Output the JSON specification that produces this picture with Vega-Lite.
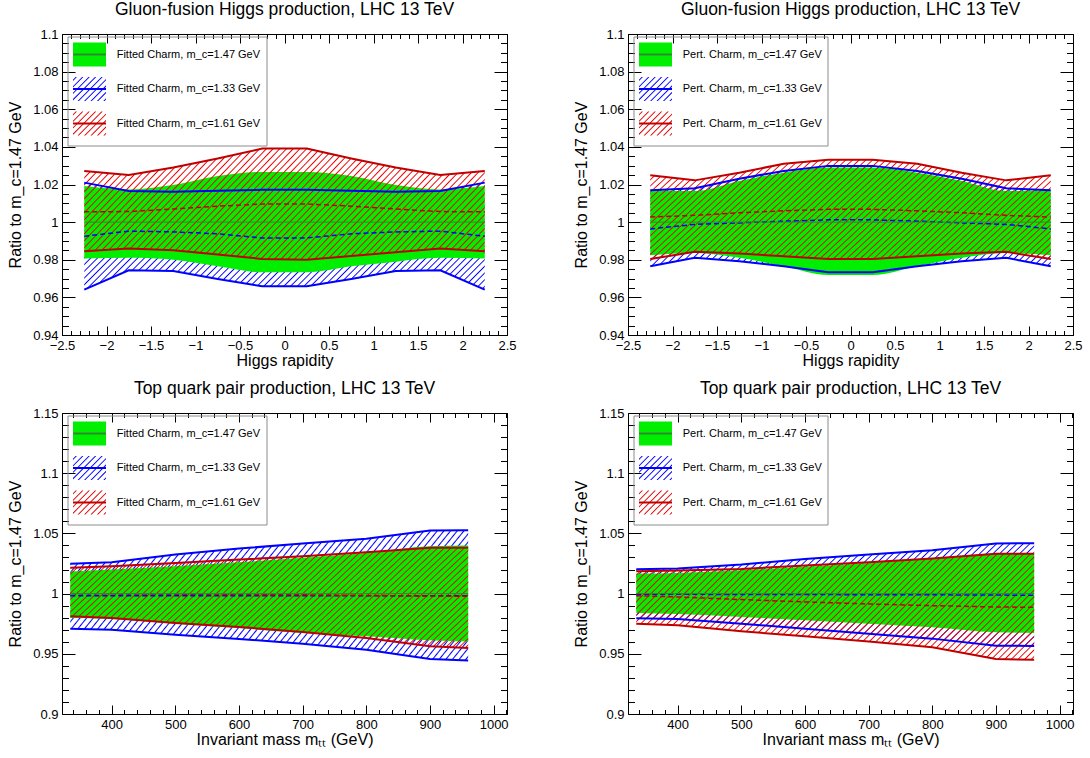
{
"$schema":"https://vega.github.io/schema/vega-lite/v6.json",
"background":"white",
"padding":{"left":7,"top":0,"right":5,"bottom":5},
"config":{
"view":{"stroke":null},
"mark":{"color":null},
"font":"Liberation Sans",
"axis":{"labelFont":"Liberation Sans","labelFontSize":13,"labelColor":"black","titleFont":"Liberation Sans","titleFontSize":16,"titleFontWeight":"normal","titleColor":"black","tickColor":"black","domainColor":"black","tickWidth":1,"domainWidth":1,"grid":false,"labelFlush":false,"labelOverlap":false,"labelBound":false},
"legend":{"labelFont":"Liberation Sans","labelFontSize":11,"labelColor":"black","padding":5.5,"rowPadding":1.5,"labelOffset":14.7,"symbolOffset":4,"symbolSize":529,"symbolStrokeWidth":2,"orient":"none","legendX":5.5,"legendY":2.5},
"title":{"font":"Liberation Sans","fontSize":17.5,"fontWeight":"normal","color":"black","frame":"group","offset":10,"baseline":"alphabetic","anchor":"middle"},
"style":{
"hatchB":{"fill":{"gradient":"linear","x1":0,"y1":0,"x2":1.25,"y2":0.3333,"stops":[
{"offset":0,"color":"#00f0"},{"offset":0.0025,"color":"#00f"},{"offset":0.005,"color":"#00f0"},{"offset":0.0125,"color":"#00f0"},{"offset":0.015,"color":"#00f"},{"offset":0.0175,"color":"#00f0"},{"offset":0.025,"color":"#00f0"},{"offset":0.0275,"color":"#00f"},{"offset":0.03,"color":"#00f0"},{"offset":0.0375,"color":"#00f0"},{"offset":0.04,"color":"#00f"},{"offset":0.0425,"color":"#00f0"},
{"offset":0.05,"color":"#00f0"},{"offset":0.0525,"color":"#00f"},{"offset":0.055,"color":"#00f0"},{"offset":0.0625,"color":"#00f0"},{"offset":0.065,"color":"#00f"},{"offset":0.0675,"color":"#00f0"},{"offset":0.075,"color":"#00f0"},{"offset":0.0775,"color":"#00f"},{"offset":0.08,"color":"#00f0"},{"offset":0.0875,"color":"#00f0"},{"offset":0.09,"color":"#00f"},{"offset":0.0925,"color":"#00f0"},
{"offset":0.1,"color":"#00f0"},{"offset":0.1025,"color":"#00f"},{"offset":0.105,"color":"#00f0"},{"offset":0.1125,"color":"#00f0"},{"offset":0.115,"color":"#00f"},{"offset":0.1175,"color":"#00f0"},{"offset":0.125,"color":"#00f0"},{"offset":0.1275,"color":"#00f"},{"offset":0.13,"color":"#00f0"},{"offset":0.1375,"color":"#00f0"},{"offset":0.14,"color":"#00f"},{"offset":0.1425,"color":"#00f0"},
{"offset":0.15,"color":"#00f0"},{"offset":0.1525,"color":"#00f"},{"offset":0.155,"color":"#00f0"},{"offset":0.1625,"color":"#00f0"},{"offset":0.165,"color":"#00f"},{"offset":0.1675,"color":"#00f0"},{"offset":0.175,"color":"#00f0"},{"offset":0.1775,"color":"#00f"},{"offset":0.18,"color":"#00f0"},{"offset":0.1875,"color":"#00f0"},{"offset":0.19,"color":"#00f"},{"offset":0.1925,"color":"#00f0"},
{"offset":0.2,"color":"#00f0"},{"offset":0.2025,"color":"#00f"},{"offset":0.205,"color":"#00f0"},{"offset":0.2125,"color":"#00f0"},{"offset":0.215,"color":"#00f"},{"offset":0.2175,"color":"#00f0"},{"offset":0.225,"color":"#00f0"},{"offset":0.2275,"color":"#00f"},{"offset":0.23,"color":"#00f0"},{"offset":0.2375,"color":"#00f0"},{"offset":0.24,"color":"#00f"},{"offset":0.2425,"color":"#00f0"},
{"offset":0.25,"color":"#00f0"},{"offset":0.2525,"color":"#00f"},{"offset":0.255,"color":"#00f0"},{"offset":0.2625,"color":"#00f0"},{"offset":0.265,"color":"#00f"},{"offset":0.2675,"color":"#00f0"},{"offset":0.275,"color":"#00f0"},{"offset":0.2775,"color":"#00f"},{"offset":0.28,"color":"#00f0"},{"offset":0.2875,"color":"#00f0"},{"offset":0.29,"color":"#00f"},{"offset":0.2925,"color":"#00f0"},
{"offset":0.3,"color":"#00f0"},{"offset":0.3025,"color":"#00f"},{"offset":0.305,"color":"#00f0"},{"offset":0.3125,"color":"#00f0"},{"offset":0.315,"color":"#00f"},{"offset":0.3175,"color":"#00f0"},{"offset":0.325,"color":"#00f0"},{"offset":0.3275,"color":"#00f"},{"offset":0.33,"color":"#00f0"},{"offset":0.3375,"color":"#00f0"},{"offset":0.34,"color":"#00f"},{"offset":0.3425,"color":"#00f0"},
{"offset":0.35,"color":"#00f0"},{"offset":0.3525,"color":"#00f"},{"offset":0.355,"color":"#00f0"},{"offset":0.3625,"color":"#00f0"},{"offset":0.365,"color":"#00f"},{"offset":0.3675,"color":"#00f0"},{"offset":0.375,"color":"#00f0"},{"offset":0.3775,"color":"#00f"},{"offset":0.38,"color":"#00f0"},{"offset":0.3875,"color":"#00f0"},{"offset":0.39,"color":"#00f"},{"offset":0.3925,"color":"#00f0"},
{"offset":0.4,"color":"#00f0"},{"offset":0.4025,"color":"#00f"},{"offset":0.405,"color":"#00f0"},{"offset":0.4125,"color":"#00f0"},{"offset":0.415,"color":"#00f"},{"offset":0.4175,"color":"#00f0"},{"offset":0.425,"color":"#00f0"},{"offset":0.4275,"color":"#00f"},{"offset":0.43,"color":"#00f0"},{"offset":0.4375,"color":"#00f0"},{"offset":0.44,"color":"#00f"},{"offset":0.4425,"color":"#00f0"},
{"offset":0.45,"color":"#00f0"},{"offset":0.4525,"color":"#00f"},{"offset":0.455,"color":"#00f0"},{"offset":0.4625,"color":"#00f0"},{"offset":0.465,"color":"#00f"},{"offset":0.4675,"color":"#00f0"},{"offset":0.475,"color":"#00f0"},{"offset":0.4775,"color":"#00f"},{"offset":0.48,"color":"#00f0"},{"offset":0.4875,"color":"#00f0"},{"offset":0.49,"color":"#00f"},{"offset":0.4925,"color":"#00f0"},
{"offset":0.5,"color":"#00f0"},{"offset":0.5025,"color":"#00f"},{"offset":0.505,"color":"#00f0"},{"offset":0.5125,"color":"#00f0"},{"offset":0.515,"color":"#00f"},{"offset":0.5175,"color":"#00f0"},{"offset":0.525,"color":"#00f0"},{"offset":0.5275,"color":"#00f"},{"offset":0.53,"color":"#00f0"},{"offset":0.5375,"color":"#00f0"},{"offset":0.54,"color":"#00f"},{"offset":0.5425,"color":"#00f0"},
{"offset":0.55,"color":"#00f0"},{"offset":0.5525,"color":"#00f"},{"offset":0.555,"color":"#00f0"},{"offset":0.5625,"color":"#00f0"},{"offset":0.565,"color":"#00f"},{"offset":0.5675,"color":"#00f0"},{"offset":0.575,"color":"#00f0"},{"offset":0.5775,"color":"#00f"},{"offset":0.58,"color":"#00f0"},{"offset":0.5875,"color":"#00f0"},{"offset":0.59,"color":"#00f"},{"offset":0.5925,"color":"#00f0"},
{"offset":0.6,"color":"#00f0"},{"offset":0.6025,"color":"#00f"},{"offset":0.605,"color":"#00f0"},{"offset":0.6125,"color":"#00f0"},{"offset":0.615,"color":"#00f"},{"offset":0.6175,"color":"#00f0"},{"offset":0.625,"color":"#00f0"},{"offset":0.6275,"color":"#00f"},{"offset":0.63,"color":"#00f0"},{"offset":0.6375,"color":"#00f0"},{"offset":0.64,"color":"#00f"},{"offset":0.6425,"color":"#00f0"},
{"offset":0.65,"color":"#00f0"},{"offset":0.6525,"color":"#00f"},{"offset":0.655,"color":"#00f0"},{"offset":0.6625,"color":"#00f0"},{"offset":0.665,"color":"#00f"},{"offset":0.6675,"color":"#00f0"},{"offset":0.675,"color":"#00f0"},{"offset":0.6775,"color":"#00f"},{"offset":0.68,"color":"#00f0"},{"offset":0.6875,"color":"#00f0"},{"offset":0.69,"color":"#00f"},{"offset":0.6925,"color":"#00f0"},
{"offset":0.7,"color":"#00f0"},{"offset":0.7025,"color":"#00f"},{"offset":0.705,"color":"#00f0"},{"offset":0.7125,"color":"#00f0"},{"offset":0.715,"color":"#00f"},{"offset":0.7175,"color":"#00f0"},{"offset":0.725,"color":"#00f0"},{"offset":0.7275,"color":"#00f"},{"offset":0.73,"color":"#00f0"},{"offset":0.7375,"color":"#00f0"},{"offset":0.74,"color":"#00f"},{"offset":0.7425,"color":"#00f0"},
{"offset":0.75,"color":"#00f0"},{"offset":0.7525,"color":"#00f"},{"offset":0.755,"color":"#00f0"},{"offset":0.7625,"color":"#00f0"},{"offset":0.765,"color":"#00f"},{"offset":0.7675,"color":"#00f0"},{"offset":0.775,"color":"#00f0"},{"offset":0.7775,"color":"#00f"},{"offset":0.78,"color":"#00f0"},{"offset":0.7875,"color":"#00f0"},{"offset":0.79,"color":"#00f"},{"offset":0.7925,"color":"#00f0"},
{"offset":0.8,"color":"#00f0"},{"offset":0.8025,"color":"#00f"},{"offset":0.805,"color":"#00f0"},{"offset":0.8125,"color":"#00f0"},{"offset":0.815,"color":"#00f"},{"offset":0.8175,"color":"#00f0"},{"offset":0.825,"color":"#00f0"},{"offset":0.8275,"color":"#00f"},{"offset":0.83,"color":"#00f0"},{"offset":0.8375,"color":"#00f0"},{"offset":0.84,"color":"#00f"},{"offset":0.8425,"color":"#00f0"},
{"offset":0.85,"color":"#00f0"},{"offset":0.8525,"color":"#00f"},{"offset":0.855,"color":"#00f0"},{"offset":0.8625,"color":"#00f0"},{"offset":0.865,"color":"#00f"},{"offset":0.8675,"color":"#00f0"},{"offset":0.875,"color":"#00f0"},{"offset":0.8775,"color":"#00f"},{"offset":0.88,"color":"#00f0"},{"offset":0.8875,"color":"#00f0"},{"offset":0.89,"color":"#00f"},{"offset":0.8925,"color":"#00f0"},
{"offset":0.9,"color":"#00f0"},{"offset":0.9025,"color":"#00f"},{"offset":0.905,"color":"#00f0"},{"offset":0.9125,"color":"#00f0"},{"offset":0.915,"color":"#00f"},{"offset":0.9175,"color":"#00f0"},{"offset":0.925,"color":"#00f0"},{"offset":0.9275,"color":"#00f"},{"offset":0.93,"color":"#00f0"},{"offset":0.9375,"color":"#00f0"},{"offset":0.94,"color":"#00f"},{"offset":0.9425,"color":"#00f0"}
]}},
"hatchR":{"fill":{"gradient":"linear","x1":0,"y1":0,"x2":1.25,"y2":0.3333,"stops":[
{"offset":0,"color":"#e000"},{"offset":0.0025,"color":"#e00"},{"offset":0.005,"color":"#e000"},{"offset":0.0125,"color":"#e000"},{"offset":0.015,"color":"#e00"},{"offset":0.0175,"color":"#e000"},{"offset":0.025,"color":"#e000"},{"offset":0.0275,"color":"#e00"},{"offset":0.03,"color":"#e000"},{"offset":0.0375,"color":"#e000"},{"offset":0.04,"color":"#e00"},{"offset":0.0425,"color":"#e000"},
{"offset":0.05,"color":"#e000"},{"offset":0.0525,"color":"#e00"},{"offset":0.055,"color":"#e000"},{"offset":0.0625,"color":"#e000"},{"offset":0.065,"color":"#e00"},{"offset":0.0675,"color":"#e000"},{"offset":0.075,"color":"#e000"},{"offset":0.0775,"color":"#e00"},{"offset":0.08,"color":"#e000"},{"offset":0.0875,"color":"#e000"},{"offset":0.09,"color":"#e00"},{"offset":0.0925,"color":"#e000"},
{"offset":0.1,"color":"#e000"},{"offset":0.1025,"color":"#e00"},{"offset":0.105,"color":"#e000"},{"offset":0.1125,"color":"#e000"},{"offset":0.115,"color":"#e00"},{"offset":0.1175,"color":"#e000"},{"offset":0.125,"color":"#e000"},{"offset":0.1275,"color":"#e00"},{"offset":0.13,"color":"#e000"},{"offset":0.1375,"color":"#e000"},{"offset":0.14,"color":"#e00"},{"offset":0.1425,"color":"#e000"},
{"offset":0.15,"color":"#e000"},{"offset":0.1525,"color":"#e00"},{"offset":0.155,"color":"#e000"},{"offset":0.1625,"color":"#e000"},{"offset":0.165,"color":"#e00"},{"offset":0.1675,"color":"#e000"},{"offset":0.175,"color":"#e000"},{"offset":0.1775,"color":"#e00"},{"offset":0.18,"color":"#e000"},{"offset":0.1875,"color":"#e000"},{"offset":0.19,"color":"#e00"},{"offset":0.1925,"color":"#e000"},
{"offset":0.2,"color":"#e000"},{"offset":0.2025,"color":"#e00"},{"offset":0.205,"color":"#e000"},{"offset":0.2125,"color":"#e000"},{"offset":0.215,"color":"#e00"},{"offset":0.2175,"color":"#e000"},{"offset":0.225,"color":"#e000"},{"offset":0.2275,"color":"#e00"},{"offset":0.23,"color":"#e000"},{"offset":0.2375,"color":"#e000"},{"offset":0.24,"color":"#e00"},{"offset":0.2425,"color":"#e000"},
{"offset":0.25,"color":"#e000"},{"offset":0.2525,"color":"#e00"},{"offset":0.255,"color":"#e000"},{"offset":0.2625,"color":"#e000"},{"offset":0.265,"color":"#e00"},{"offset":0.2675,"color":"#e000"},{"offset":0.275,"color":"#e000"},{"offset":0.2775,"color":"#e00"},{"offset":0.28,"color":"#e000"},{"offset":0.2875,"color":"#e000"},{"offset":0.29,"color":"#e00"},{"offset":0.2925,"color":"#e000"},
{"offset":0.3,"color":"#e000"},{"offset":0.3025,"color":"#e00"},{"offset":0.305,"color":"#e000"},{"offset":0.3125,"color":"#e000"},{"offset":0.315,"color":"#e00"},{"offset":0.3175,"color":"#e000"},{"offset":0.325,"color":"#e000"},{"offset":0.3275,"color":"#e00"},{"offset":0.33,"color":"#e000"},{"offset":0.3375,"color":"#e000"},{"offset":0.34,"color":"#e00"},{"offset":0.3425,"color":"#e000"},
{"offset":0.35,"color":"#e000"},{"offset":0.3525,"color":"#e00"},{"offset":0.355,"color":"#e000"},{"offset":0.3625,"color":"#e000"},{"offset":0.365,"color":"#e00"},{"offset":0.3675,"color":"#e000"},{"offset":0.375,"color":"#e000"},{"offset":0.3775,"color":"#e00"},{"offset":0.38,"color":"#e000"},{"offset":0.3875,"color":"#e000"},{"offset":0.39,"color":"#e00"},{"offset":0.3925,"color":"#e000"},
{"offset":0.4,"color":"#e000"},{"offset":0.4025,"color":"#e00"},{"offset":0.405,"color":"#e000"},{"offset":0.4125,"color":"#e000"},{"offset":0.415,"color":"#e00"},{"offset":0.4175,"color":"#e000"},{"offset":0.425,"color":"#e000"},{"offset":0.4275,"color":"#e00"},{"offset":0.43,"color":"#e000"},{"offset":0.4375,"color":"#e000"},{"offset":0.44,"color":"#e00"},{"offset":0.4425,"color":"#e000"},
{"offset":0.45,"color":"#e000"},{"offset":0.4525,"color":"#e00"},{"offset":0.455,"color":"#e000"},{"offset":0.4625,"color":"#e000"},{"offset":0.465,"color":"#e00"},{"offset":0.4675,"color":"#e000"},{"offset":0.475,"color":"#e000"},{"offset":0.4775,"color":"#e00"},{"offset":0.48,"color":"#e000"},{"offset":0.4875,"color":"#e000"},{"offset":0.49,"color":"#e00"},{"offset":0.4925,"color":"#e000"},
{"offset":0.5,"color":"#e000"},{"offset":0.5025,"color":"#e00"},{"offset":0.505,"color":"#e000"},{"offset":0.5125,"color":"#e000"},{"offset":0.515,"color":"#e00"},{"offset":0.5175,"color":"#e000"},{"offset":0.525,"color":"#e000"},{"offset":0.5275,"color":"#e00"},{"offset":0.53,"color":"#e000"},{"offset":0.5375,"color":"#e000"},{"offset":0.54,"color":"#e00"},{"offset":0.5425,"color":"#e000"},
{"offset":0.55,"color":"#e000"},{"offset":0.5525,"color":"#e00"},{"offset":0.555,"color":"#e000"},{"offset":0.5625,"color":"#e000"},{"offset":0.565,"color":"#e00"},{"offset":0.5675,"color":"#e000"},{"offset":0.575,"color":"#e000"},{"offset":0.5775,"color":"#e00"},{"offset":0.58,"color":"#e000"},{"offset":0.5875,"color":"#e000"},{"offset":0.59,"color":"#e00"},{"offset":0.5925,"color":"#e000"},
{"offset":0.6,"color":"#e000"},{"offset":0.6025,"color":"#e00"},{"offset":0.605,"color":"#e000"},{"offset":0.6125,"color":"#e000"},{"offset":0.615,"color":"#e00"},{"offset":0.6175,"color":"#e000"},{"offset":0.625,"color":"#e000"},{"offset":0.6275,"color":"#e00"},{"offset":0.63,"color":"#e000"},{"offset":0.6375,"color":"#e000"},{"offset":0.64,"color":"#e00"},{"offset":0.6425,"color":"#e000"},
{"offset":0.65,"color":"#e000"},{"offset":0.6525,"color":"#e00"},{"offset":0.655,"color":"#e000"},{"offset":0.6625,"color":"#e000"},{"offset":0.665,"color":"#e00"},{"offset":0.6675,"color":"#e000"},{"offset":0.675,"color":"#e000"},{"offset":0.6775,"color":"#e00"},{"offset":0.68,"color":"#e000"},{"offset":0.6875,"color":"#e000"},{"offset":0.69,"color":"#e00"},{"offset":0.6925,"color":"#e000"},
{"offset":0.7,"color":"#e000"},{"offset":0.7025,"color":"#e00"},{"offset":0.705,"color":"#e000"},{"offset":0.7125,"color":"#e000"},{"offset":0.715,"color":"#e00"},{"offset":0.7175,"color":"#e000"},{"offset":0.725,"color":"#e000"},{"offset":0.7275,"color":"#e00"},{"offset":0.73,"color":"#e000"},{"offset":0.7375,"color":"#e000"},{"offset":0.74,"color":"#e00"},{"offset":0.7425,"color":"#e000"},
{"offset":0.75,"color":"#e000"},{"offset":0.7525,"color":"#e00"},{"offset":0.755,"color":"#e000"},{"offset":0.7625,"color":"#e000"},{"offset":0.765,"color":"#e00"},{"offset":0.7675,"color":"#e000"},{"offset":0.775,"color":"#e000"},{"offset":0.7775,"color":"#e00"},{"offset":0.78,"color":"#e000"},{"offset":0.7875,"color":"#e000"},{"offset":0.79,"color":"#e00"},{"offset":0.7925,"color":"#e000"},
{"offset":0.8,"color":"#e000"},{"offset":0.8025,"color":"#e00"},{"offset":0.805,"color":"#e000"},{"offset":0.8125,"color":"#e000"},{"offset":0.815,"color":"#e00"},{"offset":0.8175,"color":"#e000"},{"offset":0.825,"color":"#e000"},{"offset":0.8275,"color":"#e00"},{"offset":0.83,"color":"#e000"},{"offset":0.8375,"color":"#e000"},{"offset":0.84,"color":"#e00"},{"offset":0.8425,"color":"#e000"},
{"offset":0.85,"color":"#e000"},{"offset":0.8525,"color":"#e00"},{"offset":0.855,"color":"#e000"},{"offset":0.8625,"color":"#e000"},{"offset":0.865,"color":"#e00"},{"offset":0.8675,"color":"#e000"},{"offset":0.875,"color":"#e000"},{"offset":0.8775,"color":"#e00"},{"offset":0.88,"color":"#e000"},{"offset":0.8875,"color":"#e000"},{"offset":0.89,"color":"#e00"},{"offset":0.8925,"color":"#e000"},
{"offset":0.9,"color":"#e000"},{"offset":0.9025,"color":"#e00"},{"offset":0.905,"color":"#e000"},{"offset":0.9125,"color":"#e000"},{"offset":0.915,"color":"#e00"},{"offset":0.9175,"color":"#e000"},{"offset":0.925,"color":"#e000"},{"offset":0.9275,"color":"#e00"},{"offset":0.93,"color":"#e000"},{"offset":0.9375,"color":"#e000"},{"offset":0.94,"color":"#e00"},{"offset":0.9425,"color":"#e000"}
]}}
}
},
"datasets":{
"h1":[
{"mc":"1.47","s":"g","x":-2.25,"lo":0.9806,"hi":1.0192,"m":1},{"mc":"1.47","s":"g","x":-1.75,"lo":0.981,"hi":1.0174,"m":1},{"mc":"1.47","s":"g","x":-1.25,"lo":0.98,"hi":1.0197,"m":1},{"mc":"1.47","s":"g","x":-0.75,"lo":0.9765,"hi":1.0245,"m":1},{"mc":"1.47","s":"g","x":-0.25,"lo":0.9733,"hi":1.0267,"m":1},{"mc":"1.47","s":"g","x":0.25,"lo":0.9733,"hi":1.0267,"m":1},{"mc":"1.47","s":"g","x":0.75,"lo":0.9765,"hi":1.0245,"m":1},{"mc":"1.47","s":"g","x":1.25,"lo":0.979,"hi":1.0197,"m":1},{"mc":"1.47","s":"g","x":1.75,"lo":0.981,"hi":1.0174,"m":1},{"mc":"1.47","s":"g","x":2.25,"lo":0.9806,"hi":1.0192,"m":1},
{"mc":"1.33","s":"b","x":-2.25,"lo":0.9641,"hi":1.021,"m":0.9925},{"mc":"1.33","s":"b","x":-1.75,"lo":0.9744,"hi":1.0165,"m":0.9952},{"mc":"1.33","s":"b","x":-1.25,"lo":0.974,"hi":1.0162,"m":0.9948},{"mc":"1.33","s":"b","x":-0.75,"lo":0.9698,"hi":1.0167,"m":0.9938},{"mc":"1.33","s":"b","x":-0.25,"lo":0.9659,"hi":1.0172,"m":0.9916},{"mc":"1.33","s":"b","x":0.25,"lo":0.9659,"hi":1.0172,"m":0.9916},{"mc":"1.33","s":"b","x":0.75,"lo":0.9698,"hi":1.0167,"m":0.9938},{"mc":"1.33","s":"b","x":1.25,"lo":0.974,"hi":1.0162,"m":0.9948},{"mc":"1.33","s":"b","x":1.75,"lo":0.9744,"hi":1.0165,"m":0.9952},{"mc":"1.33","s":"b","x":2.25,"lo":0.9641,"hi":1.021,"m":0.9925},
{"mc":"1.61","s":"r","x":-2.25,"lo":0.9845,"hi":1.0272,"m":1.0055},{"mc":"1.61","s":"r","x":-1.75,"lo":0.986,"hi":1.0251,"m":1.0056},{"mc":"1.61","s":"r","x":-1.25,"lo":0.985,"hi":1.029,"m":1.007},{"mc":"1.61","s":"r","x":-0.75,"lo":0.9828,"hi":1.0338,"m":1.0085},{"mc":"1.61","s":"r","x":-0.25,"lo":0.9804,"hi":1.0391,"m":1.0096},{"mc":"1.61","s":"r","x":0.25,"lo":0.98,"hi":1.0391,"m":1.0096},{"mc":"1.61","s":"r","x":0.75,"lo":0.982,"hi":1.0338,"m":1.0085},{"mc":"1.61","s":"r","x":1.25,"lo":0.984,"hi":1.029,"m":1.007},{"mc":"1.61","s":"r","x":1.75,"lo":0.986,"hi":1.0251,"m":1.0056},{"mc":"1.61","s":"r","x":2.25,"lo":0.9845,"hi":1.0272,"m":1.0055}
],
"h2":[
{"mc":"1.47","s":"g","x":-2.25,"lo":0.9824,"hi":1.017,"m":1},{"mc":"1.47","s":"g","x":-1.75,"lo":0.9836,"hi":1.0165,"m":1},{"mc":"1.47","s":"g","x":-1.25,"lo":0.981,"hi":1.0219,"m":1},{"mc":"1.47","s":"g","x":-0.75,"lo":0.9765,"hi":1.0263,"m":1},{"mc":"1.47","s":"g","x":-0.25,"lo":0.9719,"hi":1.029,"m":1},{"mc":"1.47","s":"g","x":0.25,"lo":0.9719,"hi":1.029,"m":1},{"mc":"1.47","s":"g","x":0.75,"lo":0.9765,"hi":1.0263,"m":1},{"mc":"1.47","s":"g","x":1.25,"lo":0.981,"hi":1.0219,"m":1},{"mc":"1.47","s":"g","x":1.75,"lo":0.9836,"hi":1.0165,"m":1},{"mc":"1.47","s":"g","x":2.25,"lo":0.9824,"hi":1.017,"m":1},
{"mc":"1.33","s":"b","x":-2.25,"lo":0.9765,"hi":1.0169,"m":0.9964},{"mc":"1.33","s":"b","x":-1.75,"lo":0.981,"hi":1.018,"m":0.9988},{"mc":"1.33","s":"b","x":-1.25,"lo":0.9792,"hi":1.0231,"m":0.9996},{"mc":"1.33","s":"b","x":-0.75,"lo":0.9765,"hi":1.0272,"m":1.0005},{"mc":"1.33","s":"b","x":-0.25,"lo":0.9733,"hi":1.0299,"m":1.0012},{"mc":"1.33","s":"b","x":0.25,"lo":0.9733,"hi":1.0299,"m":1.0012},{"mc":"1.33","s":"b","x":0.75,"lo":0.9765,"hi":1.0272,"m":1.0005},{"mc":"1.33","s":"b","x":1.25,"lo":0.9792,"hi":1.0231,"m":0.9996},{"mc":"1.33","s":"b","x":1.75,"lo":0.981,"hi":1.018,"m":0.9988},{"mc":"1.33","s":"b","x":2.25,"lo":0.9765,"hi":1.0169,"m":0.9964},
{"mc":"1.61","s":"r","x":-2.25,"lo":0.9804,"hi":1.0249,"m":1.0027},{"mc":"1.61","s":"r","x":-1.75,"lo":0.9842,"hi":1.0222,"m":1.0036},{"mc":"1.61","s":"r","x":-1.25,"lo":0.9833,"hi":1.0263,"m":1.005},{"mc":"1.61","s":"r","x":-0.75,"lo":0.9819,"hi":1.031,"m":1.006},{"mc":"1.61","s":"r","x":-0.25,"lo":0.9804,"hi":1.0331,"m":1.0068},{"mc":"1.61","s":"r","x":0.25,"lo":0.9804,"hi":1.0331,"m":1.0068},{"mc":"1.61","s":"r","x":0.75,"lo":0.9819,"hi":1.031,"m":1.006},{"mc":"1.61","s":"r","x":1.25,"lo":0.9833,"hi":1.0263,"m":1.005},{"mc":"1.61","s":"r","x":1.75,"lo":0.9842,"hi":1.0222,"m":1.0036},{"mc":"1.61","s":"r","x":2.25,"lo":0.9804,"hi":1.0249,"m":1.0027}
],
"t1":[
{"mc":"1.47","s":"g","x":335,"lo":0.9798,"hi":1.0183,"m":1},{"mc":"1.47","s":"g","x":400,"lo":0.979,"hi":1.02,"m":1},{"mc":"1.47","s":"g","x":500,"lo":0.975,"hi":1.0227,"m":1},{"mc":"1.47","s":"g","x":600,"lo":0.9714,"hi":1.026,"m":1},{"mc":"1.47","s":"g","x":700,"lo":0.9673,"hi":1.0297,"m":1},{"mc":"1.47","s":"g","x":800,"lo":0.9645,"hi":1.0338,"m":1},{"mc":"1.47","s":"g","x":900,"lo":0.9612,"hi":1.0394,"m":1},{"mc":"1.47","s":"g","x":960,"lo":0.9603,"hi":1.04,"m":1},
{"mc":"1.33","s":"b","x":335,"lo":0.9709,"hi":1.0247,"m":0.9983},{"mc":"1.33","s":"b","x":400,"lo":0.97,"hi":1.026,"m":0.9983},{"mc":"1.33","s":"b","x":500,"lo":0.9659,"hi":1.0324,"m":0.9983},{"mc":"1.33","s":"b","x":600,"lo":0.9623,"hi":1.0374,"m":0.9983},{"mc":"1.33","s":"b","x":700,"lo":0.9584,"hi":1.0416,"m":0.9983},{"mc":"1.33","s":"b","x":800,"lo":0.9534,"hi":1.0455,"m":0.9983},{"mc":"1.33","s":"b","x":900,"lo":0.9456,"hi":1.0524,"m":0.9983},{"mc":"1.33","s":"b","x":960,"lo":0.9445,"hi":1.0527,"m":0.9983},
{"mc":"1.61","s":"r","x":335,"lo":0.9811,"hi":1.0214,"m":1.0},{"mc":"1.61","s":"r","x":400,"lo":0.9798,"hi":1.0227,"m":0.9998},{"mc":"1.61","s":"r","x":500,"lo":0.9756,"hi":1.0255,"m":0.9995},{"mc":"1.61","s":"r","x":600,"lo":0.9723,"hi":1.0283,"m":0.9992},{"mc":"1.61","s":"r","x":700,"lo":0.9681,"hi":1.031,"m":0.999},{"mc":"1.61","s":"r","x":800,"lo":0.9631,"hi":1.0344,"m":0.9985},{"mc":"1.61","s":"r","x":900,"lo":0.9562,"hi":1.038,"m":0.998},{"mc":"1.61","s":"r","x":960,"lo":0.9548,"hi":1.038,"m":0.9978}
],
"t2":[
{"mc":"1.47","s":"g","x":335,"lo":0.9839,"hi":1.0166,"m":1},{"mc":"1.47","s":"g","x":400,"lo":0.9831,"hi":1.0172,"m":1},{"mc":"1.47","s":"g","x":500,"lo":0.9806,"hi":1.0194,"m":1},{"mc":"1.47","s":"g","x":600,"lo":0.9778,"hi":1.0222,"m":1},{"mc":"1.47","s":"g","x":700,"lo":0.975,"hi":1.0255,"m":1},{"mc":"1.47","s":"g","x":800,"lo":0.972,"hi":1.0291,"m":1},{"mc":"1.47","s":"g","x":900,"lo":0.9678,"hi":1.033,"m":1},{"mc":"1.47","s":"g","x":960,"lo":0.9673,"hi":1.0333,"m":1},
{"mc":"1.33","s":"b","x":335,"lo":0.9795,"hi":1.0202,"m":0.9994},{"mc":"1.33","s":"b","x":400,"lo":0.979,"hi":1.0208,"m":0.9994},{"mc":"1.33","s":"b","x":500,"lo":0.975,"hi":1.0241,"m":0.9993},{"mc":"1.33","s":"b","x":600,"lo":0.9709,"hi":1.0288,"m":0.9992},{"mc":"1.33","s":"b","x":700,"lo":0.9667,"hi":1.0324,"m":0.9991},{"mc":"1.33","s":"b","x":800,"lo":0.9626,"hi":1.036,"m":0.999},{"mc":"1.33","s":"b","x":900,"lo":0.9567,"hi":1.0416,"m":0.9988},{"mc":"1.33","s":"b","x":960,"lo":0.9565,"hi":1.0419,"m":0.9986},
{"mc":"1.61","s":"r","x":335,"lo":0.975,"hi":1.0186,"m":0.9983},{"mc":"1.61","s":"r","x":400,"lo":0.9737,"hi":1.0191,"m":0.9972},{"mc":"1.61","s":"r","x":500,"lo":0.9687,"hi":1.0205,"m":0.995},{"mc":"1.61","s":"r","x":600,"lo":0.9645,"hi":1.0233,"m":0.9931},{"mc":"1.61","s":"r","x":700,"lo":0.9603,"hi":1.0261,"m":0.9914},{"mc":"1.61","s":"r","x":800,"lo":0.9554,"hi":1.0291,"m":0.99},{"mc":"1.61","s":"r","x":900,"lo":0.9456,"hi":1.033,"m":0.9889},{"mc":"1.61","s":"r","x":960,"lo":0.9451,"hi":1.033,"m":0.9886}
]
},
"columns":2,
"spacing":{"row":78,"column":121},
"bounds":"flush",
"resolve":{"scale":{"fill":"independent","stroke":"independent","shape":"independent"}},
"concat":[
{"width":445,"height":301,"title":"Gluon-fusion Higgs production, LHC 13 TeV","data":{"name":"h1"},"resolve":{"axis":{"x":"independent","y":"independent"}},
"layer":[
{"transform":[{"filter":"datum.mc=='1.47'"}],"mark":{"type":"point","filled":true,"fillOpacity":0,"strokeOpacity":0},"encoding":{"x":{"field":"x","type":"quantitative","scale":{"domain":[-2.5,2.5],"nice":false,"zero":false},"axis":null},"y":{"field":"m","type":"quantitative","scale":{"domain":[0.94,1.1],"nice":false,"zero":false},"axis":null},"fill":{"field":"mc","type":"nominal","scale":{"domain":["1.47","1.33","1.61"],"range":["#00ee00","#0000ff","#e00000"]},"legend":{"title":null,"symbolOpacity":1,"symbolStrokeColor":"transparent","strokeColor":"#8c8c8c","labelExpr":"'Fitted Charm, m_c=' + datum.value + ' GeV'"}},"shape":{"field":"mc","type":"nominal","scale":{"domain":["1.47","1.33","1.61"],"range":["M-1.435,-1.033H1.435V1.033H-1.435Z","M-1.435,-0.803L-1.205,-1.033L-1.09,-1.033L-1.435,-0.689ZM-1.435,-0.244L-0.646,-1.033L-0.531,-1.033L-1.435,-0.129ZM-1.435,0.316L-0.086,-1.033L0.029,-1.033L-1.435,0.43ZM-1.435,0.875L0.473,-1.033L0.588,-1.033L-1.435,0.99ZM-1.033,1.033L1.033,-1.033L1.148,-1.033L-0.918,1.033ZM-0.473,1.033L1.435,-0.875L1.435,-0.76L-0.359,1.033ZM0.086,1.033L1.435,-0.316L1.435,-0.201L0.201,1.033ZM0.646,1.033L1.435,0.244L1.435,0.359L0.76,1.033ZM1.205,1.033L1.435,0.803L1.435,0.918L1.32,1.033Z","M-1.435,-0.803L-1.205,-1.033L-1.09,-1.033L-1.435,-0.689ZM-1.435,-0.244L-0.646,-1.033L-0.531,-1.033L-1.435,-0.129ZM-1.435,0.316L-0.086,-1.033L0.029,-1.033L-1.435,0.43ZM-1.435,0.875L0.473,-1.033L0.588,-1.033L-1.435,0.99ZM-1.033,1.033L1.033,-1.033L1.148,-1.033L-0.918,1.033ZM-0.473,1.033L1.435,-0.875L1.435,-0.76L-0.359,1.033ZM0.086,1.033L1.435,-0.316L1.435,-0.201L0.201,1.033ZM0.646,1.033L1.435,0.244L1.435,0.359L0.76,1.033ZM1.205,1.033L1.435,0.803L1.435,0.918L1.32,1.033Z"]},"legend":{"title":null}}}},
{"transform":[{"filter":"datum.mc=='1.33'"}],"mark":{"type":"area","style":"hatchB","opacity":1},"encoding":{"x":{"field":"x","type":"quantitative","scale":{"domain":[-2.5,2.5],"nice":false,"zero":false},"axis":{"orient":"bottom","tickCount":50,"labels":false,"tickSize":-4.5,"domain":false,"title":null}},"y":{"field":"lo","type":"quantitative","scale":{"domain":[0.94,1.1],"nice":false,"zero":false},"axis":{"orient":"left","tickCount":32,"labels":false,"tickSize":-6.5,"domain":false,"title":null}},"y2":{"field":"hi"}}},
{"transform":[{"filter":"datum.mc=='1.47'"}],"mark":{"type":"area","interpolate":"monotone","opacity":1,"fill":"#00ee00"},"encoding":{"x":{"field":"x","type":"quantitative","scale":{"domain":[-2.5,2.5],"nice":false,"zero":false},"axis":{"orient":"bottom","tickCount":10,"format":"~g","tickSize":-9,"labelPadding":13,"title":"Higgs rapidity","titleY":30,"titleBaseline":"alphabetic"}},"y":{"field":"lo","type":"quantitative","scale":{"domain":[0.94,1.1],"nice":false,"zero":false},"axis":{"orient":"left","tickCount":8,"format":"~g","tickSize":-13,"labelPadding":17,"title":"Ratio to m_c=1.47 GeV","titleX":-42,"titleBaseline":"alphabetic"}},"y2":{"field":"hi"}}},
{"transform":[{"filter":"datum.mc=='1.61'"}],"mark":{"type":"area","style":"hatchR","opacity":1},"encoding":{"x":{"field":"x","type":"quantitative","scale":{"domain":[-2.5,2.5],"nice":false,"zero":false},"axis":{"orient":"top","tickCount":10,"labels":false,"tickSize":-9,"title":null}},"y":{"field":"lo","type":"quantitative","scale":{"domain":[0.94,1.1],"nice":false,"zero":false},"axis":{"orient":"right","tickCount":8,"labels":false,"tickSize":-13,"title":null}},"y2":{"field":"hi"}}},
{"transform":[{"filter":"datum.mc!='1.47'"},{"fold":["lo","hi"],"as":["k","v"]}],"mark":{"type":"line","strokeWidth":2},"encoding":{"x":{"field":"x","type":"quantitative","scale":{"domain":[-2.5,2.5],"nice":false,"zero":false},"axis":{"orient":"top","tickCount":50,"labels":false,"tickSize":-4.5,"domain":false,"title":null}},"y":{"field":"v","type":"quantitative","scale":{"domain":[0.94,1.1],"nice":false,"zero":false},"axis":{"orient":"right","tickCount":32,"labels":false,"tickSize":-6.5,"domain":false,"title":null}},"detail":{"field":"k"},"stroke":{"field":"s","type":"nominal","scale":{"domain":["g","b","r"],"range":["#2e8b2e","#0000ff","#c00000"]},"legend":{"title":null,"symbolType":"M-1.435,-1.033L-1.435,-1.033M-1.435,0H1.435M1.435,1.033L1.435,1.033","labelExpr":"''","symbolDash":[1,0]}}}},
{"transform":[{"filter":"datum.mc!='1.47'"}],"mark":{"type":"line","strokeWidth":1.5,"strokeDash":[5,3]},"encoding":{"x":{"field":"x","type":"quantitative","scale":{"domain":[-2.5,2.5],"nice":false,"zero":false},"axis":null},"y":{"field":"m","type":"quantitative","scale":{"domain":[0.94,1.1],"nice":false,"zero":false},"axis":null},"stroke":{"field":"s","type":"nominal","scale":{"domain":["g","b","r"],"range":["#2e8b2e","#0000ff","#c00000"]}}}},
{"transform":[{"filter":"datum.mc=='1.47'"}],"mark":{"type":"line","strokeWidth":1},"encoding":{"x":{"field":"x","type":"quantitative","scale":{"domain":[-2.5,2.5],"nice":false,"zero":false},"axis":null},"y":{"field":"m","type":"quantitative","scale":{"domain":[0.94,1.1],"nice":false,"zero":false},"axis":null},"stroke":{"field":"s","type":"nominal","scale":{"domain":["g","b","r"],"range":["#2e8b2e","#0000ff","#c00000"]}}}}
]},
{"width":445,"height":301,"title":"Gluon-fusion Higgs production, LHC 13 TeV","data":{"name":"h2"},"resolve":{"axis":{"x":"independent","y":"independent"}},
"layer":[
{"transform":[{"filter":"datum.mc=='1.47'"}],"mark":{"type":"point","filled":true,"fillOpacity":0,"strokeOpacity":0},"encoding":{"x":{"field":"x","type":"quantitative","scale":{"domain":[-2.5,2.5],"nice":false,"zero":false},"axis":null},"y":{"field":"m","type":"quantitative","scale":{"domain":[0.94,1.1],"nice":false,"zero":false},"axis":null},"fill":{"field":"mc","type":"nominal","scale":{"domain":["1.47","1.33","1.61"],"range":["#00ee00","#0000ff","#e00000"]},"legend":{"title":null,"symbolOpacity":1,"symbolStrokeColor":"transparent","strokeColor":"#8c8c8c","labelExpr":"'Pert. Charm, m_c=' + datum.value + ' GeV'"}},"shape":{"field":"mc","type":"nominal","scale":{"domain":["1.47","1.33","1.61"],"range":["M-1.435,-1.033H1.435V1.033H-1.435Z","M-1.435,-0.803L-1.205,-1.033L-1.09,-1.033L-1.435,-0.689ZM-1.435,-0.244L-0.646,-1.033L-0.531,-1.033L-1.435,-0.129ZM-1.435,0.316L-0.086,-1.033L0.029,-1.033L-1.435,0.43ZM-1.435,0.875L0.473,-1.033L0.588,-1.033L-1.435,0.99ZM-1.033,1.033L1.033,-1.033L1.148,-1.033L-0.918,1.033ZM-0.473,1.033L1.435,-0.875L1.435,-0.76L-0.359,1.033ZM0.086,1.033L1.435,-0.316L1.435,-0.201L0.201,1.033ZM0.646,1.033L1.435,0.244L1.435,0.359L0.76,1.033ZM1.205,1.033L1.435,0.803L1.435,0.918L1.32,1.033Z","M-1.435,-0.803L-1.205,-1.033L-1.09,-1.033L-1.435,-0.689ZM-1.435,-0.244L-0.646,-1.033L-0.531,-1.033L-1.435,-0.129ZM-1.435,0.316L-0.086,-1.033L0.029,-1.033L-1.435,0.43ZM-1.435,0.875L0.473,-1.033L0.588,-1.033L-1.435,0.99ZM-1.033,1.033L1.033,-1.033L1.148,-1.033L-0.918,1.033ZM-0.473,1.033L1.435,-0.875L1.435,-0.76L-0.359,1.033ZM0.086,1.033L1.435,-0.316L1.435,-0.201L0.201,1.033ZM0.646,1.033L1.435,0.244L1.435,0.359L0.76,1.033ZM1.205,1.033L1.435,0.803L1.435,0.918L1.32,1.033Z"]},"legend":{"title":null}}}},
{"transform":[{"filter":"datum.mc=='1.33'"}],"mark":{"type":"area","style":"hatchB","opacity":1},"encoding":{"x":{"field":"x","type":"quantitative","scale":{"domain":[-2.5,2.5],"nice":false,"zero":false},"axis":{"orient":"bottom","tickCount":50,"labels":false,"tickSize":-4.5,"domain":false,"title":null}},"y":{"field":"lo","type":"quantitative","scale":{"domain":[0.94,1.1],"nice":false,"zero":false},"axis":{"orient":"left","tickCount":32,"labels":false,"tickSize":-6.5,"domain":false,"title":null}},"y2":{"field":"hi"}}},
{"transform":[{"filter":"datum.mc=='1.47'"}],"mark":{"type":"area","interpolate":"monotone","opacity":1,"fill":"#00ee00"},"encoding":{"x":{"field":"x","type":"quantitative","scale":{"domain":[-2.5,2.5],"nice":false,"zero":false},"axis":{"orient":"bottom","tickCount":10,"format":"~g","tickSize":-9,"labelPadding":13,"title":"Higgs rapidity","titleY":30,"titleBaseline":"alphabetic"}},"y":{"field":"lo","type":"quantitative","scale":{"domain":[0.94,1.1],"nice":false,"zero":false},"axis":{"orient":"left","tickCount":8,"format":"~g","tickSize":-13,"labelPadding":17,"title":"Ratio to m_c=1.47 GeV","titleX":-42,"titleBaseline":"alphabetic"}},"y2":{"field":"hi"}}},
{"transform":[{"filter":"datum.mc=='1.61'"}],"mark":{"type":"area","style":"hatchR","opacity":1},"encoding":{"x":{"field":"x","type":"quantitative","scale":{"domain":[-2.5,2.5],"nice":false,"zero":false},"axis":{"orient":"top","tickCount":10,"labels":false,"tickSize":-9,"title":null}},"y":{"field":"lo","type":"quantitative","scale":{"domain":[0.94,1.1],"nice":false,"zero":false},"axis":{"orient":"right","tickCount":8,"labels":false,"tickSize":-13,"title":null}},"y2":{"field":"hi"}}},
{"transform":[{"filter":"datum.mc!='1.47'"},{"fold":["lo","hi"],"as":["k","v"]}],"mark":{"type":"line","strokeWidth":2},"encoding":{"x":{"field":"x","type":"quantitative","scale":{"domain":[-2.5,2.5],"nice":false,"zero":false},"axis":{"orient":"top","tickCount":50,"labels":false,"tickSize":-4.5,"domain":false,"title":null}},"y":{"field":"v","type":"quantitative","scale":{"domain":[0.94,1.1],"nice":false,"zero":false},"axis":{"orient":"right","tickCount":32,"labels":false,"tickSize":-6.5,"domain":false,"title":null}},"detail":{"field":"k"},"stroke":{"field":"s","type":"nominal","scale":{"domain":["g","b","r"],"range":["#2e8b2e","#0000ff","#c00000"]},"legend":{"title":null,"symbolType":"M-1.435,-1.033L-1.435,-1.033M-1.435,0H1.435M1.435,1.033L1.435,1.033","labelExpr":"''","symbolDash":[1,0]}}}},
{"transform":[{"filter":"datum.mc!='1.47'"}],"mark":{"type":"line","strokeWidth":1.5,"strokeDash":[5,3]},"encoding":{"x":{"field":"x","type":"quantitative","scale":{"domain":[-2.5,2.5],"nice":false,"zero":false},"axis":null},"y":{"field":"m","type":"quantitative","scale":{"domain":[0.94,1.1],"nice":false,"zero":false},"axis":null},"stroke":{"field":"s","type":"nominal","scale":{"domain":["g","b","r"],"range":["#2e8b2e","#0000ff","#c00000"]}}}},
{"transform":[{"filter":"datum.mc=='1.47'"}],"mark":{"type":"line","strokeWidth":1},"encoding":{"x":{"field":"x","type":"quantitative","scale":{"domain":[-2.5,2.5],"nice":false,"zero":false},"axis":null},"y":{"field":"m","type":"quantitative","scale":{"domain":[0.94,1.1],"nice":false,"zero":false},"axis":null},"stroke":{"field":"s","type":"nominal","scale":{"domain":["g","b","r"],"range":["#2e8b2e","#0000ff","#c00000"]}}}}
]},
{"width":445,"height":301,"title":"Top quark pair production, LHC 13 TeV","data":{"name":"t1"},"resolve":{"axis":{"x":"independent","y":"independent"}},
"layer":[
{"transform":[{"filter":"datum.mc=='1.47'"}],"mark":{"type":"point","filled":true,"fillOpacity":0,"strokeOpacity":0},"encoding":{"x":{"field":"x","type":"quantitative","scale":{"domain":[322,1021],"nice":false,"zero":false},"axis":null},"y":{"field":"m","type":"quantitative","scale":{"domain":[0.9,1.15],"nice":false,"zero":false},"axis":null},"fill":{"field":"mc","type":"nominal","scale":{"domain":["1.47","1.33","1.61"],"range":["#00ee00","#0000ff","#e00000"]},"legend":{"title":null,"symbolOpacity":1,"symbolStrokeColor":"transparent","strokeColor":"#8c8c8c","labelExpr":"'Fitted Charm, m_c=' + datum.value + ' GeV'"}},"shape":{"field":"mc","type":"nominal","scale":{"domain":["1.47","1.33","1.61"],"range":["M-1.435,-1.033H1.435V1.033H-1.435Z","M-1.435,-0.803L-1.205,-1.033L-1.09,-1.033L-1.435,-0.689ZM-1.435,-0.244L-0.646,-1.033L-0.531,-1.033L-1.435,-0.129ZM-1.435,0.316L-0.086,-1.033L0.029,-1.033L-1.435,0.43ZM-1.435,0.875L0.473,-1.033L0.588,-1.033L-1.435,0.99ZM-1.033,1.033L1.033,-1.033L1.148,-1.033L-0.918,1.033ZM-0.473,1.033L1.435,-0.875L1.435,-0.76L-0.359,1.033ZM0.086,1.033L1.435,-0.316L1.435,-0.201L0.201,1.033ZM0.646,1.033L1.435,0.244L1.435,0.359L0.76,1.033ZM1.205,1.033L1.435,0.803L1.435,0.918L1.32,1.033Z","M-1.435,-0.803L-1.205,-1.033L-1.09,-1.033L-1.435,-0.689ZM-1.435,-0.244L-0.646,-1.033L-0.531,-1.033L-1.435,-0.129ZM-1.435,0.316L-0.086,-1.033L0.029,-1.033L-1.435,0.43ZM-1.435,0.875L0.473,-1.033L0.588,-1.033L-1.435,0.99ZM-1.033,1.033L1.033,-1.033L1.148,-1.033L-0.918,1.033ZM-0.473,1.033L1.435,-0.875L1.435,-0.76L-0.359,1.033ZM0.086,1.033L1.435,-0.316L1.435,-0.201L0.201,1.033ZM0.646,1.033L1.435,0.244L1.435,0.359L0.76,1.033ZM1.205,1.033L1.435,0.803L1.435,0.918L1.32,1.033Z"]},"legend":{"title":null}}}},
{"transform":[{"filter":"datum.mc=='1.33'"}],"mark":{"type":"area","style":"hatchB","opacity":1},"encoding":{"x":{"field":"x","type":"quantitative","scale":{"domain":[322,1021],"nice":false,"zero":false},"axis":{"orient":"bottom","tickCount":35,"labels":false,"tickSize":-4.5,"domain":false,"title":null}},"y":{"field":"lo","type":"quantitative","scale":{"domain":[0.9,1.15],"nice":false,"zero":false},"axis":{"orient":"left","tickCount":25,"labels":false,"tickSize":-6.5,"domain":false,"title":null}},"y2":{"field":"hi"}}},
{"transform":[{"filter":"datum.mc=='1.47'"}],"mark":{"type":"area","interpolate":"monotone","opacity":1,"fill":"#00ee00"},"encoding":{"x":{"field":"x","type":"quantitative","scale":{"domain":[322,1021],"nice":false,"zero":false},"axis":{"orient":"bottom","tickCount":7,"format":"d","tickSize":-9,"labelPadding":13,"title":"Invariant mass mₜₜ (GeV)","titleY":30,"titleBaseline":"alphabetic"}},"y":{"field":"lo","type":"quantitative","scale":{"domain":[0.9,1.15],"nice":false,"zero":false},"axis":{"orient":"left","tickCount":5,"format":"~g","tickSize":-13,"labelPadding":17,"title":"Ratio to m_c=1.47 GeV","titleX":-42,"titleBaseline":"alphabetic"}},"y2":{"field":"hi"}}},
{"transform":[{"filter":"datum.mc=='1.61'"}],"mark":{"type":"area","style":"hatchR","opacity":1},"encoding":{"x":{"field":"x","type":"quantitative","scale":{"domain":[322,1021],"nice":false,"zero":false},"axis":{"orient":"top","tickCount":7,"labels":false,"tickSize":-9,"title":null}},"y":{"field":"lo","type":"quantitative","scale":{"domain":[0.9,1.15],"nice":false,"zero":false},"axis":{"orient":"right","tickCount":5,"labels":false,"tickSize":-13,"title":null}},"y2":{"field":"hi"}}},
{"transform":[{"filter":"datum.mc!='1.47'"},{"fold":["lo","hi"],"as":["k","v"]}],"mark":{"type":"line","strokeWidth":2},"encoding":{"x":{"field":"x","type":"quantitative","scale":{"domain":[322,1021],"nice":false,"zero":false},"axis":{"orient":"top","tickCount":35,"labels":false,"tickSize":-4.5,"domain":false,"title":null}},"y":{"field":"v","type":"quantitative","scale":{"domain":[0.9,1.15],"nice":false,"zero":false},"axis":{"orient":"right","tickCount":25,"labels":false,"tickSize":-6.5,"domain":false,"title":null}},"detail":{"field":"k"},"stroke":{"field":"s","type":"nominal","scale":{"domain":["g","b","r"],"range":["#2e8b2e","#0000ff","#c00000"]},"legend":{"title":null,"symbolType":"M-1.435,-1.033L-1.435,-1.033M-1.435,0H1.435M1.435,1.033L1.435,1.033","labelExpr":"''","symbolDash":[1,0]}}}},
{"transform":[{"filter":"datum.mc!='1.47'"}],"mark":{"type":"line","strokeWidth":1.5,"strokeDash":[5,3]},"encoding":{"x":{"field":"x","type":"quantitative","scale":{"domain":[322,1021],"nice":false,"zero":false},"axis":null},"y":{"field":"m","type":"quantitative","scale":{"domain":[0.9,1.15],"nice":false,"zero":false},"axis":null},"stroke":{"field":"s","type":"nominal","scale":{"domain":["g","b","r"],"range":["#2e8b2e","#0000ff","#c00000"]}}}},
{"transform":[{"filter":"datum.mc=='1.47'"}],"mark":{"type":"line","strokeWidth":1},"encoding":{"x":{"field":"x","type":"quantitative","scale":{"domain":[322,1021],"nice":false,"zero":false},"axis":null},"y":{"field":"m","type":"quantitative","scale":{"domain":[0.9,1.15],"nice":false,"zero":false},"axis":null},"stroke":{"field":"s","type":"nominal","scale":{"domain":["g","b","r"],"range":["#2e8b2e","#0000ff","#c00000"]}}}}
]},
{"width":445,"height":301,"title":"Top quark pair production, LHC 13 TeV","data":{"name":"t2"},"resolve":{"axis":{"x":"independent","y":"independent"}},
"layer":[
{"transform":[{"filter":"datum.mc=='1.47'"}],"mark":{"type":"point","filled":true,"fillOpacity":0,"strokeOpacity":0},"encoding":{"x":{"field":"x","type":"quantitative","scale":{"domain":[322,1021],"nice":false,"zero":false},"axis":null},"y":{"field":"m","type":"quantitative","scale":{"domain":[0.9,1.15],"nice":false,"zero":false},"axis":null},"fill":{"field":"mc","type":"nominal","scale":{"domain":["1.47","1.33","1.61"],"range":["#00ee00","#0000ff","#e00000"]},"legend":{"title":null,"symbolOpacity":1,"symbolStrokeColor":"transparent","strokeColor":"#8c8c8c","labelExpr":"'Pert. Charm, m_c=' + datum.value + ' GeV'"}},"shape":{"field":"mc","type":"nominal","scale":{"domain":["1.47","1.33","1.61"],"range":["M-1.435,-1.033H1.435V1.033H-1.435Z","M-1.435,-0.803L-1.205,-1.033L-1.09,-1.033L-1.435,-0.689ZM-1.435,-0.244L-0.646,-1.033L-0.531,-1.033L-1.435,-0.129ZM-1.435,0.316L-0.086,-1.033L0.029,-1.033L-1.435,0.43ZM-1.435,0.875L0.473,-1.033L0.588,-1.033L-1.435,0.99ZM-1.033,1.033L1.033,-1.033L1.148,-1.033L-0.918,1.033ZM-0.473,1.033L1.435,-0.875L1.435,-0.76L-0.359,1.033ZM0.086,1.033L1.435,-0.316L1.435,-0.201L0.201,1.033ZM0.646,1.033L1.435,0.244L1.435,0.359L0.76,1.033ZM1.205,1.033L1.435,0.803L1.435,0.918L1.32,1.033Z","M-1.435,-0.803L-1.205,-1.033L-1.09,-1.033L-1.435,-0.689ZM-1.435,-0.244L-0.646,-1.033L-0.531,-1.033L-1.435,-0.129ZM-1.435,0.316L-0.086,-1.033L0.029,-1.033L-1.435,0.43ZM-1.435,0.875L0.473,-1.033L0.588,-1.033L-1.435,0.99ZM-1.033,1.033L1.033,-1.033L1.148,-1.033L-0.918,1.033ZM-0.473,1.033L1.435,-0.875L1.435,-0.76L-0.359,1.033ZM0.086,1.033L1.435,-0.316L1.435,-0.201L0.201,1.033ZM0.646,1.033L1.435,0.244L1.435,0.359L0.76,1.033ZM1.205,1.033L1.435,0.803L1.435,0.918L1.32,1.033Z"]},"legend":{"title":null}}}},
{"transform":[{"filter":"datum.mc=='1.33'"}],"mark":{"type":"area","style":"hatchB","opacity":1},"encoding":{"x":{"field":"x","type":"quantitative","scale":{"domain":[322,1021],"nice":false,"zero":false},"axis":{"orient":"bottom","tickCount":35,"labels":false,"tickSize":-4.5,"domain":false,"title":null}},"y":{"field":"lo","type":"quantitative","scale":{"domain":[0.9,1.15],"nice":false,"zero":false},"axis":{"orient":"left","tickCount":25,"labels":false,"tickSize":-6.5,"domain":false,"title":null}},"y2":{"field":"hi"}}},
{"transform":[{"filter":"datum.mc=='1.47'"}],"mark":{"type":"area","interpolate":"monotone","opacity":1,"fill":"#00ee00"},"encoding":{"x":{"field":"x","type":"quantitative","scale":{"domain":[322,1021],"nice":false,"zero":false},"axis":{"orient":"bottom","tickCount":7,"format":"d","tickSize":-9,"labelPadding":13,"title":"Invariant mass mₜₜ (GeV)","titleY":30,"titleBaseline":"alphabetic"}},"y":{"field":"lo","type":"quantitative","scale":{"domain":[0.9,1.15],"nice":false,"zero":false},"axis":{"orient":"left","tickCount":5,"format":"~g","tickSize":-13,"labelPadding":17,"title":"Ratio to m_c=1.47 GeV","titleX":-42,"titleBaseline":"alphabetic"}},"y2":{"field":"hi"}}},
{"transform":[{"filter":"datum.mc=='1.61'"}],"mark":{"type":"area","style":"hatchR","opacity":1},"encoding":{"x":{"field":"x","type":"quantitative","scale":{"domain":[322,1021],"nice":false,"zero":false},"axis":{"orient":"top","tickCount":7,"labels":false,"tickSize":-9,"title":null}},"y":{"field":"lo","type":"quantitative","scale":{"domain":[0.9,1.15],"nice":false,"zero":false},"axis":{"orient":"right","tickCount":5,"labels":false,"tickSize":-13,"title":null}},"y2":{"field":"hi"}}},
{"transform":[{"filter":"datum.mc!='1.47'"},{"fold":["lo","hi"],"as":["k","v"]}],"mark":{"type":"line","strokeWidth":2},"encoding":{"x":{"field":"x","type":"quantitative","scale":{"domain":[322,1021],"nice":false,"zero":false},"axis":{"orient":"top","tickCount":35,"labels":false,"tickSize":-4.5,"domain":false,"title":null}},"y":{"field":"v","type":"quantitative","scale":{"domain":[0.9,1.15],"nice":false,"zero":false},"axis":{"orient":"right","tickCount":25,"labels":false,"tickSize":-6.5,"domain":false,"title":null}},"detail":{"field":"k"},"stroke":{"field":"s","type":"nominal","scale":{"domain":["g","b","r"],"range":["#2e8b2e","#0000ff","#c00000"]},"legend":{"title":null,"symbolType":"M-1.435,-1.033L-1.435,-1.033M-1.435,0H1.435M1.435,1.033L1.435,1.033","labelExpr":"''","symbolDash":[1,0]}}}},
{"transform":[{"filter":"datum.mc!='1.47'"}],"mark":{"type":"line","strokeWidth":1.5,"strokeDash":[5,3]},"encoding":{"x":{"field":"x","type":"quantitative","scale":{"domain":[322,1021],"nice":false,"zero":false},"axis":null},"y":{"field":"m","type":"quantitative","scale":{"domain":[0.9,1.15],"nice":false,"zero":false},"axis":null},"stroke":{"field":"s","type":"nominal","scale":{"domain":["g","b","r"],"range":["#2e8b2e","#0000ff","#c00000"]}}}},
{"transform":[{"filter":"datum.mc=='1.47'"}],"mark":{"type":"line","strokeWidth":1},"encoding":{"x":{"field":"x","type":"quantitative","scale":{"domain":[322,1021],"nice":false,"zero":false},"axis":null},"y":{"field":"m","type":"quantitative","scale":{"domain":[0.9,1.15],"nice":false,"zero":false},"axis":null},"stroke":{"field":"s","type":"nominal","scale":{"domain":["g","b","r"],"range":["#2e8b2e","#0000ff","#c00000"]}}}}
]}
]
}
